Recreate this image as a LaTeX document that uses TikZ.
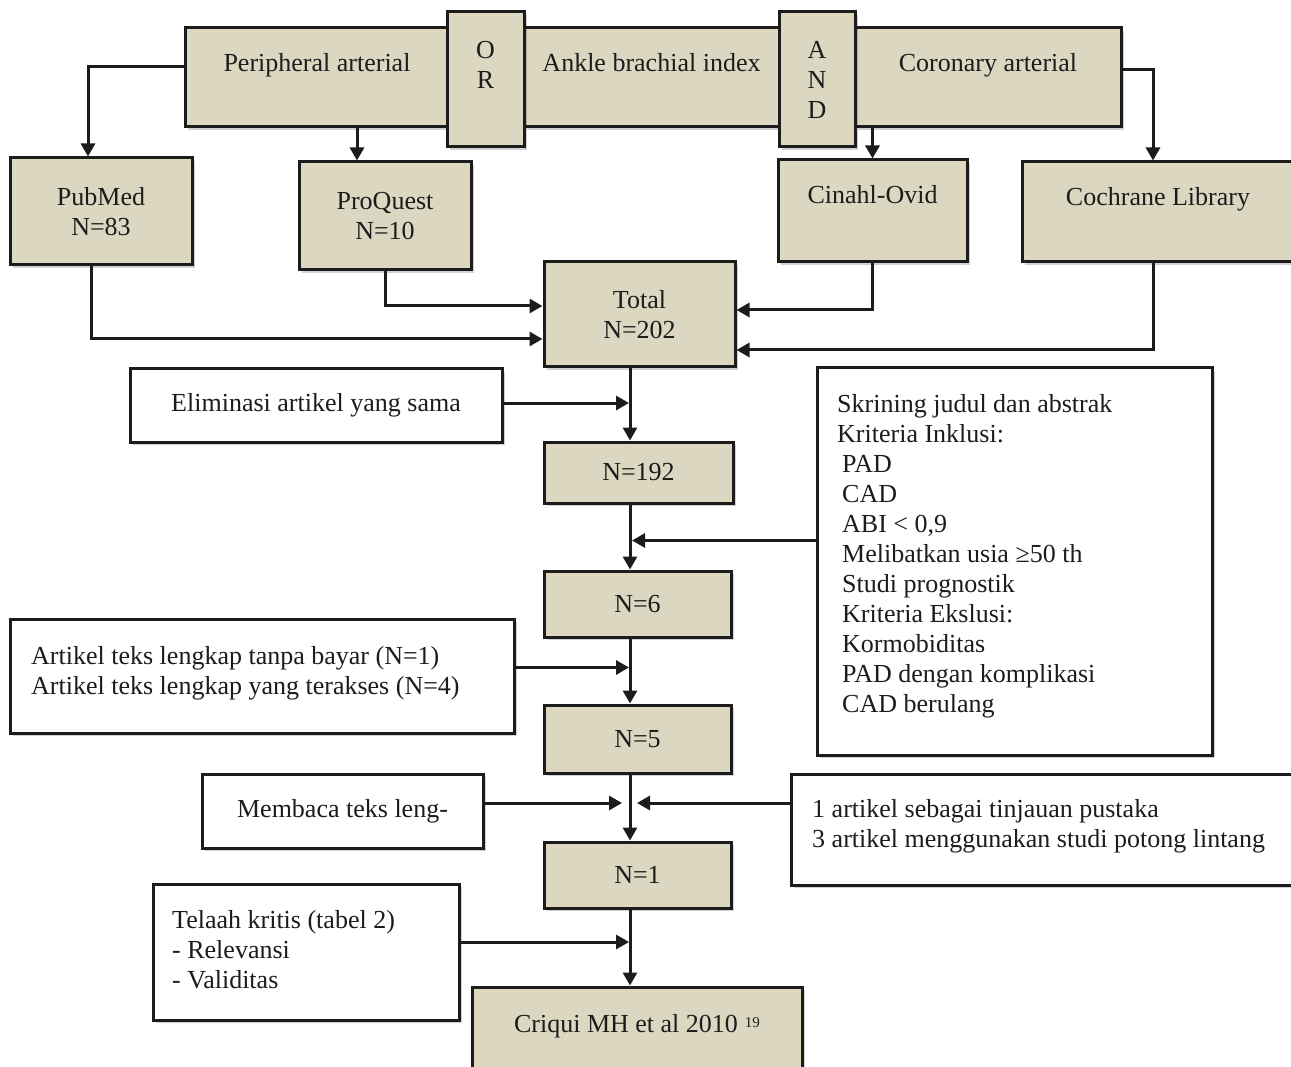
\documentclass[tikz,border=0pt]{standalone}
\usepackage{fontspec}
\setmainfont{Liberation Serif}
\usetikzlibrary{arrows.meta,shadows}
\definecolor{boxfill}{RGB}{220,215,193}
\definecolor{ink}{RGB}{28,28,28}
\newcommand\myind{\hspace*{5pt}}
\begin{document}
\begin{tikzpicture}[x=1pt,y=-1pt,
  every node/.style={font=\fontsize{26}{30}\selectfont, inner sep=0pt, text=ink},
  rect/.style args={#1/#2/#3/#4}{at={({(#1+#3)/2},{(#2+#4)/2})}, minimum width={#3-#1}, minimum height={#4-#2}},
  shd/.style={drop shadow={shadow xshift=3pt,shadow yshift=-3pt,fill=black,opacity=0.18}},
  gbox/.style={draw=ink, line width=3pt, fill=boxfill, shd},
  wbox/.style={draw=ink, line width=3pt, fill=white, shd},
  txt/.style={align=left, anchor=north west},
  hi/.style={text height=18pt, text depth=#1},
  arr/.style={draw=ink, line width=3pt, -{Triangle[length=13pt,width=14pt]}}
]
\useasboundingbox (0,0) rectangle (1291,1067);
\clip (0,0) rectangle (1291,1067);

% helper coordinates
\coordinate (m) at (630,0);
\coordinate (ml) at (629,0);
\coordinate (mr) at (632,0);
\coordinate (c0) at (88,0);
\coordinate (c1) at (357,0);
\coordinate (c3) at (1153,0);
\coordinate (c4) at (91,0);
\coordinate (memtip) at (622,803);
\coordinate (a1tip) at (637,803);

% top search bar
\node[gbox, rect=185/28/449/127, hi=29pt] (pa) {Peripheral arterial};
\node[gbox, rect=524/28/779/127, hi=29pt] (ab) {Ankle brachial index};
\node[gbox, rect=855/28/1121/127, hi=29pt] (ca) {Coronary arterial};
\node[gbox, rect=447/12/524/147, align=center] (or) {O\\R\\\phantom{D}};
\node[gbox, rect=779/12/855/147, align=center] (and) {A\\N\\D};

% databases
\node[gbox, rect=10/158/192/265, align=center] (pm) {PubMed\\N=83};
\node[gbox, rect=299/162/471/270, align=center] (pq) {ProQuest\\N=10};
\node[gbox, rect=778/160/967/262, hi=33pt] (ci) {Cinahl-Ovid};
\node[gbox, rect=1022/162/1294/262, hi=31pt] (co) {Cochrane Library};

% main column
\node[gbox, rect=544/262/735/367, align=center] (tot) {Total\\N=202};
\node[gbox, rect=544/442/733/503] (n192) {N=192};
\node[gbox, rect=544/571/731/637] (n6) {N=6};
\node[gbox, rect=544/705/731/773] (n5) {N=5};
\node[gbox, rect=544/842/731/908] (n1) {N=1};
\node[gbox, rect=472/987/802/1085, hi=26pt] (cr) {Criqui MH et al 2010\hspace{7pt}\raisebox{5pt}{\fontsize{15}{15}\selectfont 19}};

% side boxes
\node[wbox, rect=130/369/502/442] (elim) {Eliminasi artikel yang sama};
\node[wbox, rect=817/368/1212/755] (skr) {};
\node[txt] (skrt) at (837,394) {Skrining judul dan abstrak\\Kriteria Inklusi:\\\myind PAD\\\myind CAD\\\myind ABI < 0,9\\\myind Melibatkan usia ≥50 th\\\myind Studi prognostik\\\myind Kriteria Ekslusi:\\\myind Kormobiditas\\\myind PAD dengan komplikasi\\\myind CAD berulang};
\node[wbox, rect=10/619/514/733] (art) {};
\node[txt] (artt) at (31,646) {Artikel teks lengkap tanpa bayar (N=1)\\Artikel teks lengkap yang terakses (N=4)};
\node[wbox, rect=202/774/483/848] (mem) {Membaca teks leng-};
\node[wbox, rect=791/774/1296/885] (a1) {};
\node[txt] (a1t) at (812,799) {1 artikel sebagai tinjauan pustaka\\3 artikel menggunakan studi potong lintang};
\node[wbox, rect=153/884/459/1020] (tel) {};
\node[txt] (telt) at (172,910) {Telaah kritis (tabel 2)\\- Relevansi\\- Validitas};

% connectors from search bar
\draw[arr] ([yshift=10.5pt]pa.west) -| (pm.north -| c0);
\draw[arr] (pa.south -| c1) -- (pq.north -| c1);
\draw[arr] (ca.south -| ci.north) -- (ci.north);
\draw[arr] ([yshift=7.5pt]ca.east) -| (co.north -| c3);

% into total
\draw[arr] (pq.south) |- ([yshift=8.5pt]tot.west);
\draw[arr] (pm.south -| c4) |- ([yshift=-24.5pt]tot.west);
\draw[arr] (ci.south) |- ([yshift=4.5pt]tot.east);
\draw[arr] (co.south -| c3) |- ([yshift=-35.5pt]tot.east);

% main column
\draw[arr] (tot.south -| m) -- (n192.north -| m);
\draw[arr] (n192.south -| m) -- (n6.north -| m);
\draw[arr] (n6.south -| m) -- (n5.north -| m);
\draw[arr] (n5.south -| m) -- (n1.north -| m);
\draw[arr] (n1.south -| m) -- (cr.north -| m);

% side arrows
\draw[arr] ([yshift=2.5pt]elim.east) -- ([yshift=2.5pt]elim.east -| ml);
\draw[arr] ([yshift=21pt]skr.west) -- ([yshift=21pt]skr.west -| mr);
\draw[arr] ([yshift=8.5pt]art.east) -- ([yshift=8.5pt]art.east -| ml);
\draw[arr] (mem.east |- memtip) -- (memtip);
\draw[arr] (a1.west |- a1tip) -- (a1tip);
\draw[arr] ([yshift=10pt]tel.east) -- ([yshift=10pt]tel.east -| ml);
\end{tikzpicture}
\end{document}
